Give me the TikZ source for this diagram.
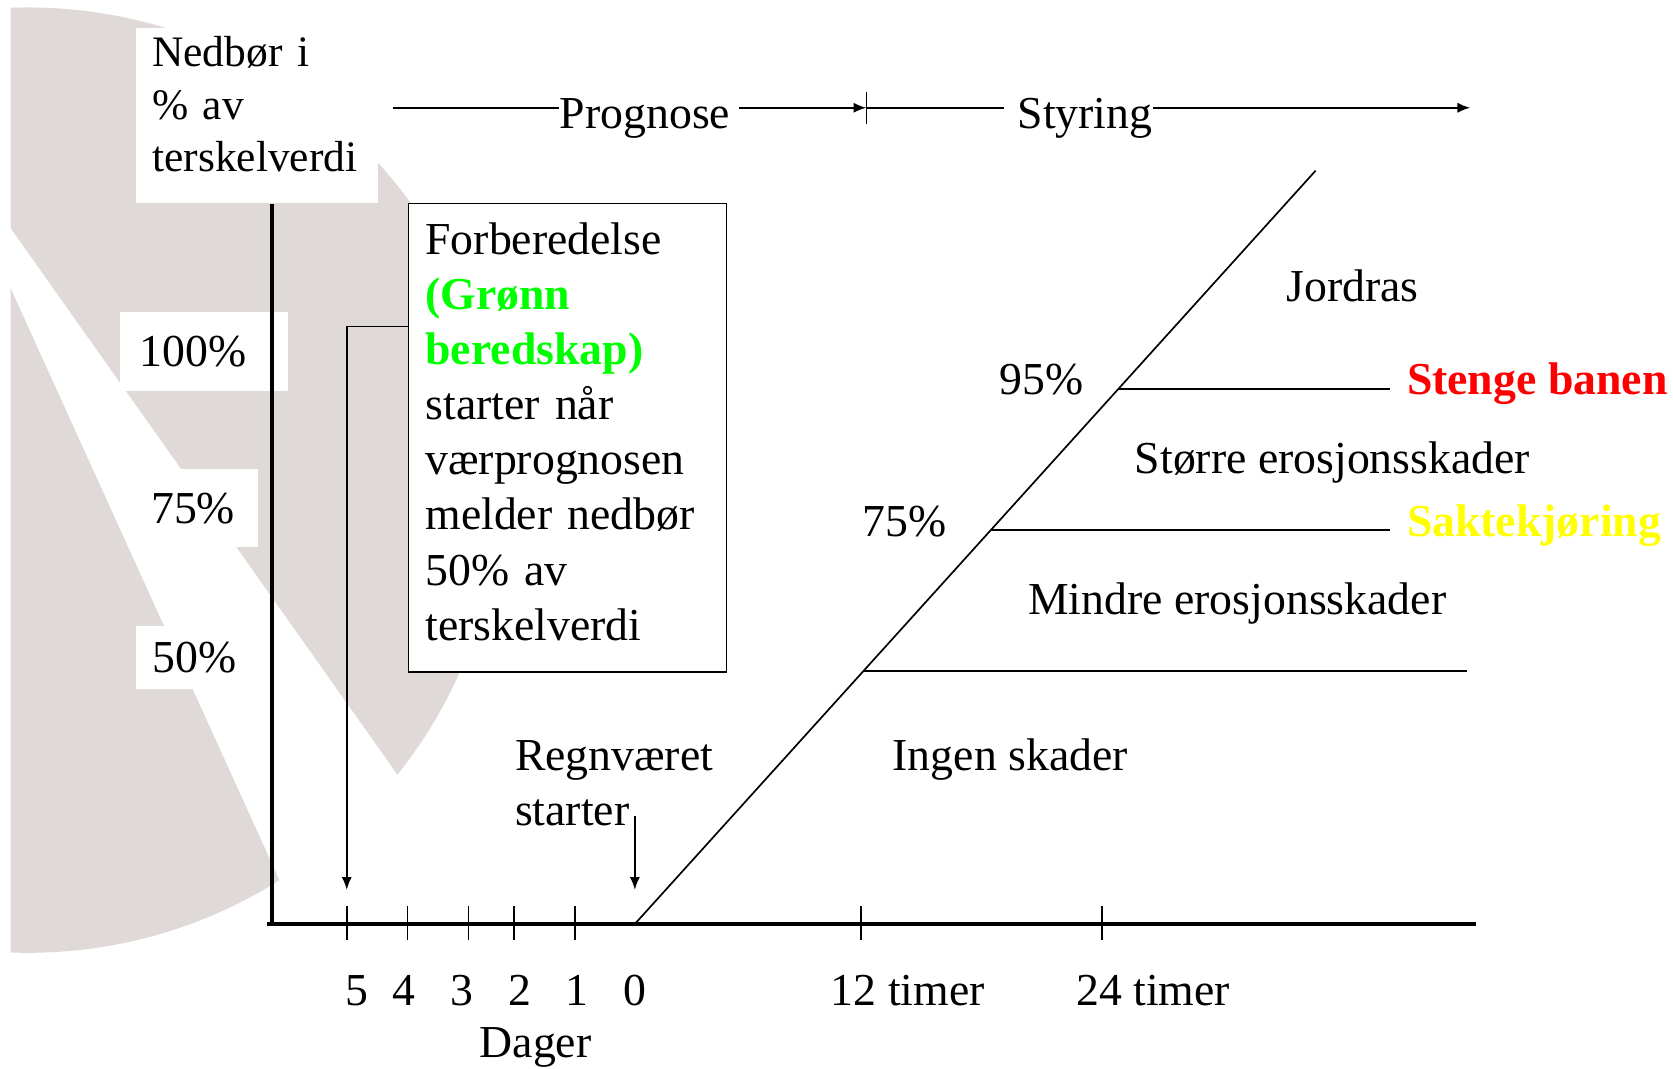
\documentclass[tikz,border=0pt]{standalone}
\usepackage{fontspec}
\setmainfont{Liberation Serif}
\usetikzlibrary{positioning,arrows.meta,calc}
\definecolor{LogoGray}{HTML}{DFD9D8}
\definecolor{GreenText}{HTML}{00FF00}
\definecolor{RedText}{HTML}{FF0000}
\definecolor{YellowText}{HTML}{FFFF00}

\begin{document}
\begin{tikzpicture}[
    x=0.1mm, y=-0.1mm,
    txt/.style={
      inner sep=0pt,
      anchor=base west,
      font=\fontsize{12.2}{14.7}\selectfont
    },
    boldtxt/.style={
      txt,
      font=\fontsize{12.2}{14.7}\selectfont\bfseries
    },
    patch/.style={
      fill=white,
      inner sep=0pt,
      anchor=north west,
      align=left,
      font=\fontsize{12.2}{14.1}\selectfont
    },
    notebox/.style={
      draw,
      line width=0.45pt,
      fill=white,
      inner sep=0pt,
      anchor=north west,
      align=left,
      font=\fontsize{12.2}{14.7}\selectfont
    },
    axis/.style={line width=1pt},
    rule/.style={line width=0.55pt},
    thinline/.style={line width=0.45pt},
    arrow/.style={
      -{Latex[length=1.2mm,width=0.95mm]},
      line width=0.45pt
    }
  ]
  \useasboundingbox (0,0) rectangle (1568,1001);

  % logo in the background
  \begin{scope}
    \clip (10,0) rectangle (700,1001);
    \fill[LogoGray] (26,450) circle [radius=443];
  \end{scope}
  \fill[white] (0,200) -- (567,1001) -- (342,1001) -- (0,248) -- cycle;

  % y-axis labels on white patches
  \node[patch, font=\fontsize{11.6}{14.1}\selectfont, minimum width=22.7mm, minimum height=16.4mm, text width=19.7mm, inner xsep=1.5mm] (ylab) at (127,26)
    {Nedbør i\\\% av\\terskelverdi\rule[-2.24mm]{0pt}{2.24mm}};
  \node[patch, minimum width=15.7mm, minimum height=7.4mm, text width=12.1mm, inner xsep=1.8mm] (p100) at (112,292) {100\%};
  \node[patch, minimum width=11.4mm, minimum height=7.3mm, text width=8.6mm, inner xsep=1.4mm] (p75) at (127,439) {75\%};
  \node[patch, minimum width=11.3mm, minimum height=5.9mm, text width=8.3mm, inner xsep=1.5mm] (p50) at (127,586) {50\%};

  % preparation box
  \node[notebox, minimum width=29.8mm, minimum height=43.9mm, text width=26.6mm, inner xsep=1.6mm] (note) at (382,190)
    {Forberedelse\\
     {\bfseries\color{GreenText}(Grønn}\\
     {\bfseries\color{GreenText}beredskap)}\\
     starter når\\
     værprognosen\\
     melder nedbør\\
     50\% av\\
     terskelverdi\rule[-1.2mm]{0pt}{1.2mm}};

  % phases on top
  \coordinate (pstart) at (368,101);
  \coordinate (split) at (812,101);
  \coordinate (pend) at (1378,101);
  \node[txt] (prog) at (524,120) {Prognose};
  \node[txt] (styr) at (953,120) {Styring};
  \draw[thinline] (pstart) -- (pstart -| prog.west);
  \draw[arrow] ($(prog.east |- split)+(8,0)$) -- (split);
  \draw[thinline] ($(split)+(0,-15)$) -- ($(split)+(0,15)$);
  \draw[thinline] (split) -- ($(styr.west |- split)+(-12,0)$);
  \draw[arrow] (styr.east |- split) -- (pend);

  % axes and ticks
  \coordinate (origin) at (255,866);
  \coordinate (xstart) at (250,866);
  \coordinate (xend) at (1383,866);
  \draw[axis] (ylab.south -| origin) -- ($(origin)+(0,2)$);
  \draw[axis] (xstart) -- (xend);
  \foreach \tx in {325,382,439,482,539,807,1033}
    \draw[thinline] (\tx,849) -- (\tx,881);
  \foreach \lx/\lab in {335/5,379/4,433/3,487/2,541/1,595/0}
    \node[txt, anchor=base] (day\lab) at (\lx,942) {\lab};
  \node[txt] (t12) at (778,942) {12 timer};
  \node[txt] (t24) at (1008,942) {24 timer};
  \node[txt, anchor=base] (dager) at (502,991) {Dager};

  % rising line and thresholds
  \coordinate (d0) at (595,866);
  \coordinate (dtop) at (1233,160);
  \coordinate (xr) at (1303,0);
  \coordinate (xrr) at (1375,0);
  \draw[thinline] (d0) -- (dtop);
  \coordinate (c50) at ($(d0)!0.3357!(dtop)$);
  \coordinate (c75) at ($(d0)!0.5227!(dtop)$);
  \coordinate (c95) at ($(d0)!0.7096!(dtop)$);
  \draw[rule] (c50) -- (c50 -| xrr);
  \draw[rule] (c75) -- (c75 -| xr);
  \draw[rule] (c95) -- (c95 -| xr);

  % region texts
  \node[txt] (jord) at (1205,283) {Jordras};
  \node[txt] (t95) at (936,370) {95\%};
  \node[boldtxt, text=RedText] (stenge) at (1318,370) {Stenge banen};
  \node[txt] (storre) at (1063,444) {Større erosjonsskader};
  \node[txt] (t75) at (808,503) {75\%};
  \node[boldtxt, text=YellowText] (sakte) at (1318,503) {Saktekjøring};
  \node[txt] (mindre) at (963,576) {Mindre erosjonsskader};
  \node[txt] (ingen) at (836,722) {Ingen skader};
  \node[txt, align=left, font=\fontsize{12.2}{14.8}\selectfont] (regn) at (482,774) {Regnværet\\starter};

  % start arrows
  \coordinate (tip5) at (325,834);
  \coordinate (tip0) at (595,834);
  \draw[arrow] (note.west |- 0,306) -| (tip5);
  \draw[arrow] (tip0 |- 0,765) -- (tip0);
\end{tikzpicture}
\end{document}
